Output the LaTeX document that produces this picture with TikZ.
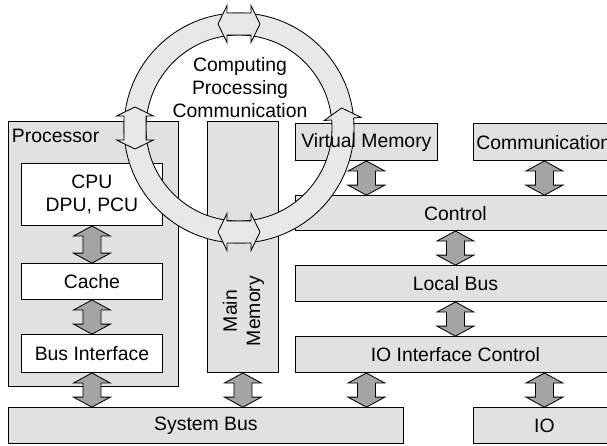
\documentclass[tikz,border=0pt]{standalone}
\usepackage{fontspec}
\setmainfont{Liberation Sans}
\usepackage{tikz}
\usetikzlibrary{calc}
\definecolor{boxgray}{HTML}{E1E1E1}
\definecolor{ringgray}{HTML}{E8E8E8}
\definecolor{arrowgray}{HTML}{A4A4A4}

\begin{document}
\begin{tikzpicture}[x=0.25mm, y=0.25mm, line width=0.6pt,
  box/.style={draw, fill=boxgray, inner sep=0, anchor=south west},
  whitebox/.style={box, fill=white},
  txt/.style={font=\fontsize{13.8}{16.6}\selectfont, align=center, inner sep=0},
  fatarrow/.style={draw, fill=arrowgray, line join=miter,
    to path={let \p1=(\tikztostart), \p2=(\tikztotarget) in
      (\x1,\y1) -- (\x1+4.6mm,\y1-2.5mm) -- (\x1+2.25mm,\y1-2.5mm)
      -- (\x1+2.25mm,\y2+2.5mm) -- (\x1+4.6mm,\y2+2.5mm) -- (\x1,\y2)
      -- (\x1-4.6mm,\y2+2.5mm) -- (\x1-2.25mm,\y2+2.5mm)
      -- (\x1-2.25mm,\y1-2.5mm) -- (\x1-4.6mm,\y1-2.5mm) -- cycle}},
  ringband/.style={draw, fill=ringgray, even odd rule},
  dblhead/.pic={\draw[fill=ringgray, line join=miter] (-21,0) -- (-12,18.5) -- (-12,11)
    -- (12,11) -- (12,18.5) -- (21,0) -- (12,-18.5) -- (12,-11) -- (-12,-11)
    -- (-12,-18.5) -- cycle;},
  onehead/.pic={\fill[ringgray] (0,-11) -- (0,-18.5) -- (11,0) -- (0,18.5) -- (0,11) -- cycle;
    \draw[line join=miter] (0,-11) -- (0,-18.5) -- (11,0) -- (0,18.5) -- (0,11);}]
  \useasboundingbox (0,0) rectangle (607,445);

  \node[box, minimum width=42.5mm, minimum height=66.25mm] (proc) at (8,58) {};
  \node[whitebox, minimum width=35.25mm, minimum height=15.5mm] (cpu) at (21,219) {};
  \node[whitebox, minimum width=35.25mm, minimum height=9mm] (cache) at (21,145) {};
  \node[whitebox, minimum width=35.25mm, minimum height=9.5mm] (busif) at (21,72) {};
  \node[box, minimum width=17.75mm, minimum height=62.75mm] (mem) at (207,72) {};
  \node[box, minimum width=35.5mm, minimum height=9.25mm] (vm) at (295,284) {};
  \node[box, minimum width=35.5mm, minimum height=9.25mm] (comm) at (473,284) {};
  \node[box, minimum width=80mm, minimum height=8.75mm] (ctrl) at (295,214) {};
  \node[box, minimum width=80mm, minimum height=9mm] (lbus) at (295,143) {};
  \node[box, minimum width=80mm, minimum height=9mm] (ioctl) at (295,72) {};
  \node[box, minimum width=98.75mm, minimum height=9mm] (sbus) at (8,1) {};
  \node[box, minimum width=35.5mm, minimum height=9mm] (io) at (473,1) {};

  \coordinate (rc) at (239,317);
  \path[ringband] (rc) circle[radius=115] (rc) circle[radius=93];
  \pic[rotate=180] at ($(rc)+(90:104)$) {dblhead};
  \pic[rotate=270] at ($(rc)+(180:104)$) {dblhead};
  \pic at ($(rc)+(270:104)$) {dblhead};
  \pic[rotate=95] at ($(rc)+(5:104)$) {onehead};

  \node[txt] (ringtxt) at (240,357.5) {Computing\\Processing\\Communication};
  \node[txt, anchor=west] (proctxt) at (11.5,309.5) {Processor};
  \node[txt] (cputxt) at (cpu) {CPU\\DPU, PCU};
  \node[txt] (cachetxt) at (cache) {Cache};
  \node[txt] (busiftxt) at (busif) {Bus Interface};
  \node[txt, rotate=90] (memtxt) at (243.5,134) {Main\\Memory};
  \node[txt] (vmtxt) at (vm) {Virtual Memory};
  \node[txt, anchor=west] (commtxt) at (476,302.5) {Communication};
  \node[txt] (ctrltxt) at (ctrl) {Control};
  \node[txt] (lbustxt) at (lbus) {Local Bus};
  \node[txt] (ioctltxt) at (ioctl) {IO Interface Control};
  \node[txt] (sbustxt) at (sbus) {System Bus};
  \node[txt] (iotxt) at (io) {IO};

  \path[fatarrow] (cpu.south) to (cache.north);
  \path[fatarrow] (cache.south) to (busif.north);
  \path[fatarrow] (busif.south) to (busif.south |- sbus.north);
  \path[fatarrow] (mem.south) to (mem.south |- sbus.north);
  \path[fatarrow] (ioctl.south -| vm.south) to (sbus.north -| vm.south);
  \path[fatarrow] (ioctl.south -| io.north) to (io.north);
  \path[fatarrow] (vm.south) to (vm.south |- ctrl.north);
  \path[fatarrow] (comm.south) to (comm.south |- ctrl.north);
  \path[fatarrow] (ctrl.south) to (lbus.north);
  \path[fatarrow] (lbus.south) to (ioctl.north);
\end{tikzpicture}
\end{document}
